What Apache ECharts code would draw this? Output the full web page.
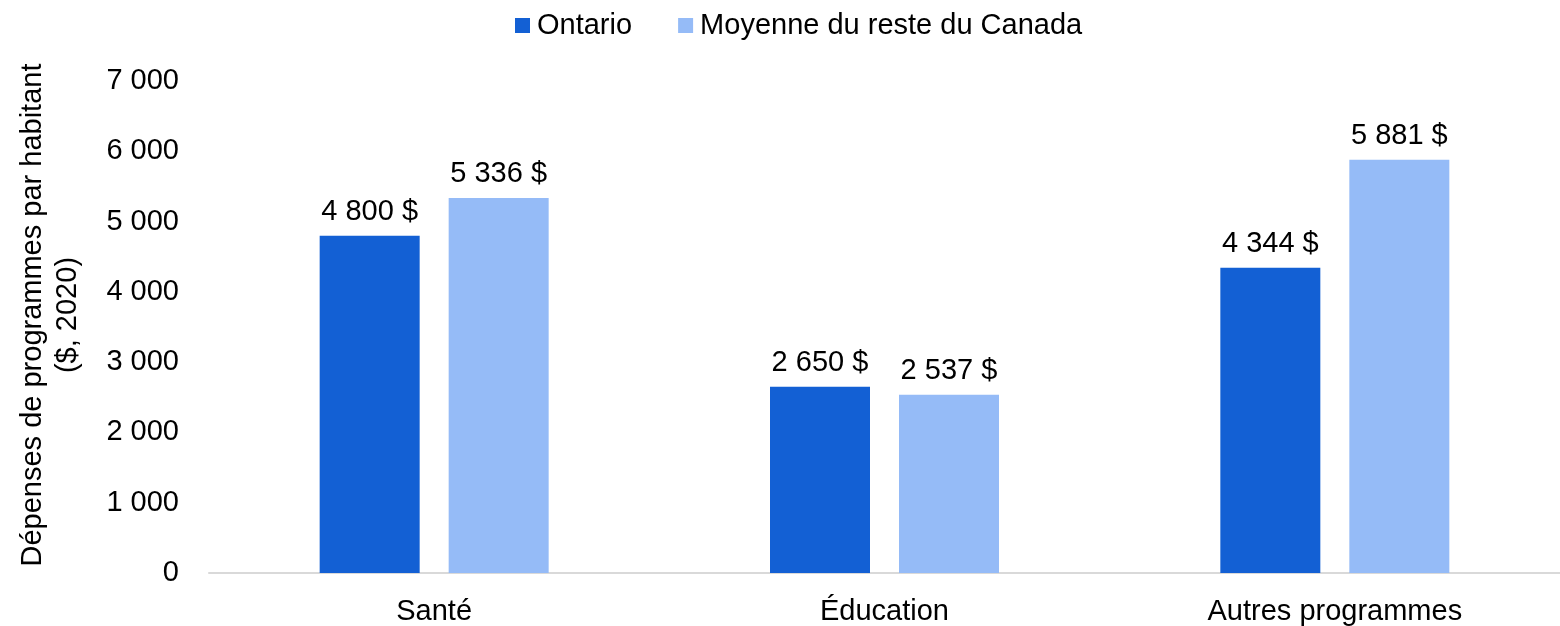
<!DOCTYPE html>
<html>
<head>
<meta charset="utf-8">
<script src="https://cdn.jsdelivr.net/npm/echarts@6/dist/echarts.min.js"></script>
<style>
  html, body { margin: 0; padding: 0; background: #fff; }
  #chart { width: 1560px; height: 626px; }
</style>
</head>
<body>
<div id="chart"></div>
<script>
var categories = ["Santé", "Éducation", "Autres programmes"];
var ontario = [4800, 2650, 4344];
var resteCanada = [5336, 2537, 5881];
var seriesNames = ["Ontario", "Moyenne du reste du Canada"];

function fmt(v) {
  return String(v).replace(/\B(?=(\d{3})+(?!\d))/g, " ");
}

var font = "Liberation Sans, Arial, sans-serif";
var fs = 29;
var chart = echarts.init(document.getElementById("chart"), null, { renderer: "canvas" });

var labelStyle = {
  show: true,
  position: "top",
  distance: 9,
  color: "#000",
  fontSize: fs,
  fontFamily: font,
  formatter: function (p) { return fmt(p.value) + " $"; }
};

chart.setOption({
  animation: false,
  textStyle: { fontFamily: font },
  legend: {
    top: 6,
    left: 510,
    itemWidth: 15,
    itemHeight: 15,
    itemGap: 46,
    icon: "rect",
    textStyle: { fontSize: fs, color: "#000", fontFamily: font, padding: [0, 0, 0, 2] },
    data: seriesNames
  },
  grid: { left: 209, right: 0, top: 81, bottom: 53, containLabel: false, outerBoundsMode: "none" },
  xAxis: {
    type: "category",
    data: categories,
    axisLine: { lineStyle: { color: "#d9d9d9", width: 2 } },
    axisTick: { show: false },
    axisLabel: { color: "#000", fontSize: fs, fontFamily: font, margin: 24 }
  },
  yAxis: {
    type: "value",
    min: 0,
    max: 7000,
    interval: 1000,
    name: "Dépenses de programmes par habitant\n($, 2020)",
    nameLocation: "middle",
    nameGap: 124,
    nameRotate: 90,
    nameTextStyle: { fontSize: fs, color: "#000", fontFamily: font, lineHeight: 35, padding: [0, 0, 0, 24] },
    splitLine: { show: false },
    axisLine: { show: false },
    axisTick: { show: false },
    axisLabel: {
      color: "#000", fontSize: fs, fontFamily: font, margin: 30,
      formatter: function (v) { return fmt(v); }
    }
  },
  series: [
    {
      name: seriesNames[0],
      type: "bar",
      data: ontario,
      barWidth: 100,
      barGap: "29%",
      itemStyle: { color: "#1360D4" },
      label: labelStyle
    },
    {
      name: seriesNames[1],
      type: "bar",
      data: resteCanada,
      barWidth: 100,
      itemStyle: { color: "#95BBF7" },
      label: labelStyle
    }
  ]
});
</script>
</body>
</html>
